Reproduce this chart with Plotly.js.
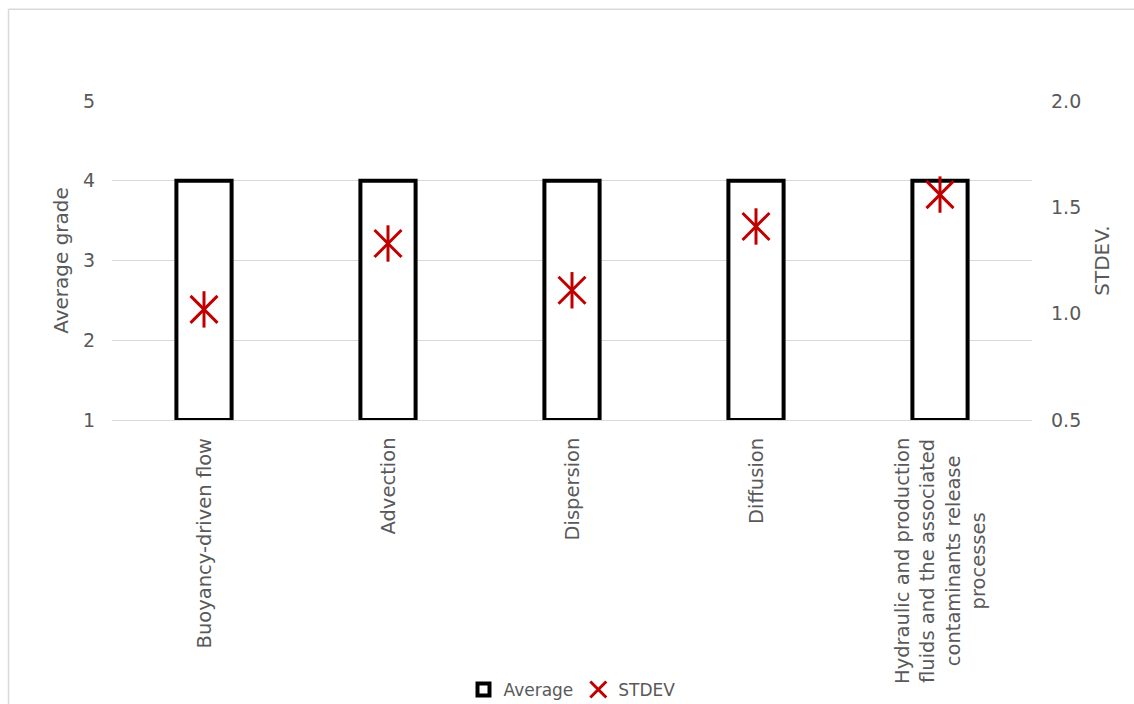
<!DOCTYPE html>
<html>
<head>
<meta charset="utf-8">
<script src="https://cdn.plot.ly/plotly-3.0.1.min.js"></script>
<style>
html,body{margin:0;padding:0;background:#fff;}
#chart{width:1134px;height:704px;}
</style>
</head>
<body>
<div id="chart"></div>
<script>
const categories = [
  "Buoyancy-driven flow",
  "Advection",
  "Dispersion",
  "Diffusion",
  "Hydraulic and production<br>fluids and the associated<br>contaminants release<br>processes"
];
const averageGrade = [4, 4, 4, 4, 4];
const stdev = [1.02, 1.33, 1.11, 1.41, 1.56];
const baseGrade = 1;

const FONT = "DejaVu Sans, Verdana, sans-serif";
const GREY = "#595959";
const GRID = "#d9d9d9";
const RED = "#C00000";

const traces = [
  {
    type: "bar",
    name: "Average",
    x: categories,
    y: averageGrade.map(v => v - baseGrade),
    base: baseGrade,
    width: 0.3,
    marker: {color: "#ffffff", line: {color: "#000000", width: 4}},
    yaxis: "y",
    hoverinfo: "skip"
  },
  {
    type: "scatter",
    mode: "markers",
    name: "STDEV",
    x: categories,
    y: stdev,
    yaxis: "y2",
    marker: {symbol: "x-thin-open", size: 27, color: RED, line: {color: RED, width: 3}}
  },
  {
    type: "scatter",
    mode: "markers",
    name: "STDEV",
    showlegend: false,
    x: categories,
    y: stdev,
    yaxis: "y2",
    marker: {symbol: "line-ns-open", size: 26, color: RED, line: {color: RED, width: 3}}
  }
];

const catAnnotations = categories.map(c => ({
  x: c, xref: "x",
  y: 0, yref: "paper",
  yshift: -16,
  xanchor: "center", yanchor: "top",
  textangle: -90,
  align: "center",
  showarrow: false,
  text: c,
  font: {family: FONT, size: 19.5, color: GREY}
}));

const layout = {
  width: 1134,
  height: 704,
  paper_bgcolor: "#ffffff",
  plot_bgcolor: "#ffffff",
  margin: {l: 112, r: 102, t: 101, b: 284},
  font: {family: FONT, size: 17, color: GREY},
  showlegend: true,
  legend: {
    orientation: "h",
    xref: "paper", x: 0.5, xanchor: "center",
    yref: "container", y: 0.02, yanchor: "middle",
    font: {family: FONT, size: 17, color: GREY},
    itemwidth: 30
  },
  bargap: 0.7,
  xaxis: {
    type: "category",
    automargin: false,
    showline: true,
    linecolor: GRID,
    linewidth: 1,
    showgrid: false,
    ticks: "",
    showticklabels: false
  },
  yaxis: {
    range: [1, 5],
    dtick: 1,
    automargin: false,
    showgrid: true,
    gridcolor: GRID,
    gridwidth: 1,
    zeroline: false,
    showline: false,
    ticks: "",
    tickfont: {family: FONT, size: 19, color: GREY},
    ticklabelstandoff: 16,
    title: {text: "Average grade", font: {family: FONT, size: 20, color: GREY}, standoff: 8}
  },
  yaxis2: {
    overlaying: "y",
    side: "right",
    range: [0.5, 2.0],
    dtick: 0.5,
    tickformat: ".1f",
    automargin: false,
    showgrid: false,
    zeroline: false,
    showline: false,
    ticks: "",
    tickfont: {family: FONT, size: 19, color: GREY},
    ticklabelstandoff: 18,
    title: {text: "STDEV.", font: {family: FONT, size: 20, color: GREY}, standoff: 14}
  },
  annotations: catAnnotations,
  shapes: [
    {type: "line", xref: "paper", yref: "paper", x0: -0.1125, x1: -0.1125, y0: 1.288, y1: -0.9,
     line: {color: GRID, width: 1.5}},
    {type: "line", xref: "paper", yref: "paper", x0: -0.1125, x1: 1.12, y0: 1.288, y1: 1.288,
     line: {color: GRID, width: 1.5}}
  ]
};

Plotly.newPlot("chart", traces, layout, {displayModeBar: false, responsive: false});
</script>
</body>
</html>
